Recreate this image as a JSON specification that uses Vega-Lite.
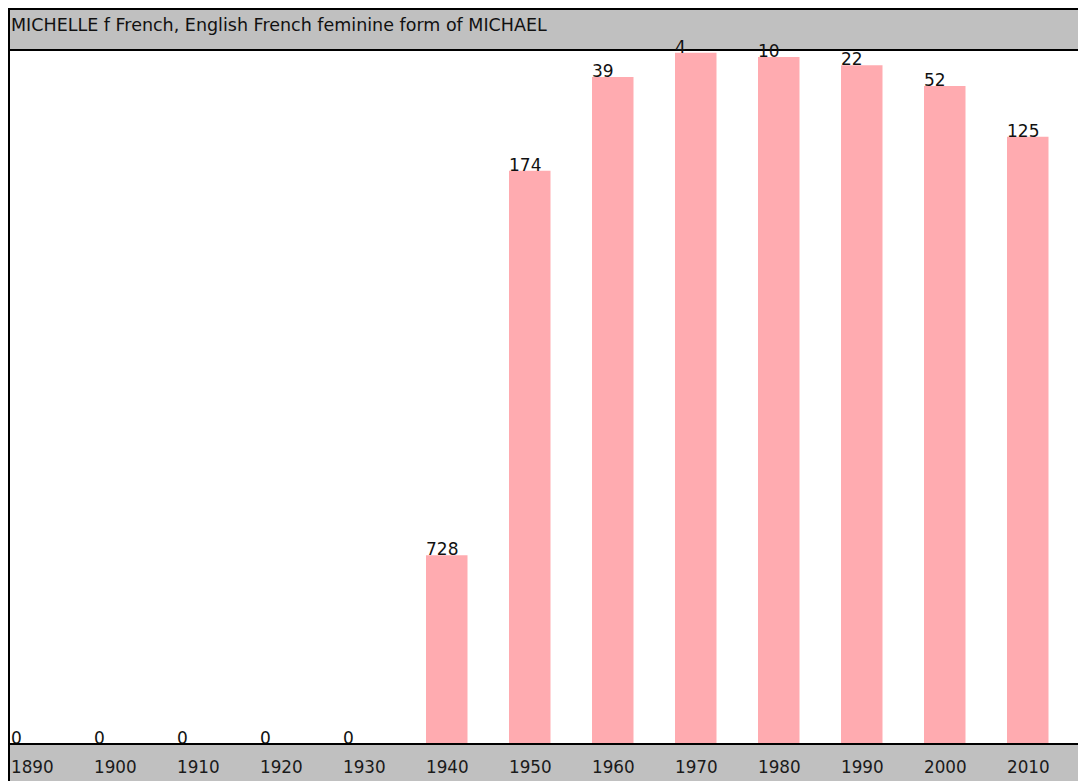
{
  "$schema": "https://vega.github.io/schema/vega-lite/v6.json",
  "background": "white",
  "padding": {"left": 8, "top": 8, "right": -14, "bottom": -3},
  "spacing": 0,
  "bounds": "flush",
  "config": {
    "font": "DejaVu Sans",
    "view": {"stroke": "#000000", "strokeWidth": 2}
  },
  "datasets": {
    "names": [
      {"year": 1890, "rank": 0, "score": 0},
      {"year": 1900, "rank": 0, "score": 0},
      {"year": 1910, "rank": 0, "score": 0},
      {"year": 1920, "rank": 0, "score": 0},
      {"year": 1930, "rank": 0, "score": 0},
      {"year": 1940, "rank": 728, "score": 272},
      {"year": 1950, "rank": 174, "score": 826},
      {"year": 1960, "rank": 39, "score": 961},
      {"year": 1970, "rank": 4, "score": 996},
      {"year": 1980, "rank": 10, "score": 990},
      {"year": 1990, "rank": 22, "score": 978},
      {"year": 2000, "rank": 52, "score": 948},
      {"year": 2010, "rank": 125, "score": 875}
    ],
    "heading": [
      {"label": "MICHELLE f French, English French feminine form of MICHAEL"}
    ]
  },
  "vconcat": [
    {
      "width": 1082,
      "height": 41,
      "view": {"fill": "#c0c0c0", "stroke": "#000000", "strokeWidth": 2},
      "data": {"name": "heading"},
      "mark": {"type": "text", "align": "left", "baseline": "middle", "fontSize": 17.5, "color": "#111111", "dx": 2, "dy": -4},
      "encoding": {
        "x": {"field": "label", "type": "nominal", "bandPosition": 0, "axis": null,
              "scale": {"type": "band", "range": [0, 1072], "paddingInner": 0, "paddingOuter": 0}},
        "text": {"field": "label", "type": "nominal"}
      }
    },
    {
      "width": 1082,
      "height": 694,
      "view": {"fill": "#ffffff", "stroke": "#000000", "strokeWidth": 2},
      "data": {"name": "names"},
      "layer": [
        {
          "mark": {"type": "bar", "color": "#ffabb0", "width": {"band": 0.5}, "xOffset": -20.75},
          "encoding": {
            "x": {"field": "year", "type": "ordinal", "axis": null,
                  "scale": {"type": "band", "range": [2, 1081], "paddingInner": 0, "paddingOuter": 0}},
            "y": {"field": "score", "type": "quantitative", "axis": null,
                  "scale": {"domain": [0, 1000]}}
          }
        },
        {
          "mark": {"type": "text", "align": "left", "baseline": "alphabetic", "fontSize": 17, "color": "#111111"},
          "encoding": {
            "x": {"field": "year", "type": "ordinal", "bandPosition": 0, "axis": null,
                  "scale": {"type": "band", "range": [2, 1081], "paddingInner": 0, "paddingOuter": 0}},
            "y": {"field": "score", "type": "quantitative", "axis": null,
                  "scale": {"domain": [0, 1000]}},
            "text": {"field": "rank", "type": "quantitative", "format": "d"}
          }
        }
      ]
    },
    {
      "width": 1082,
      "height": 40,
      "view": {"fill": "#c0c0c0", "stroke": "#000000", "strokeWidth": 2},
      "data": {"name": "names"},
      "mark": {"type": "text", "align": "left", "baseline": "middle", "fontSize": 16.8, "color": "#1a1a1a", "dy": 4},
      "encoding": {
        "x": {"field": "year", "type": "ordinal", "bandPosition": 0, "axis": null,
              "scale": {"type": "band", "range": [2, 1081], "paddingInner": 0, "paddingOuter": 0}},
        "text": {"field": "year", "type": "nominal"}
      }
    }
  ]
}
